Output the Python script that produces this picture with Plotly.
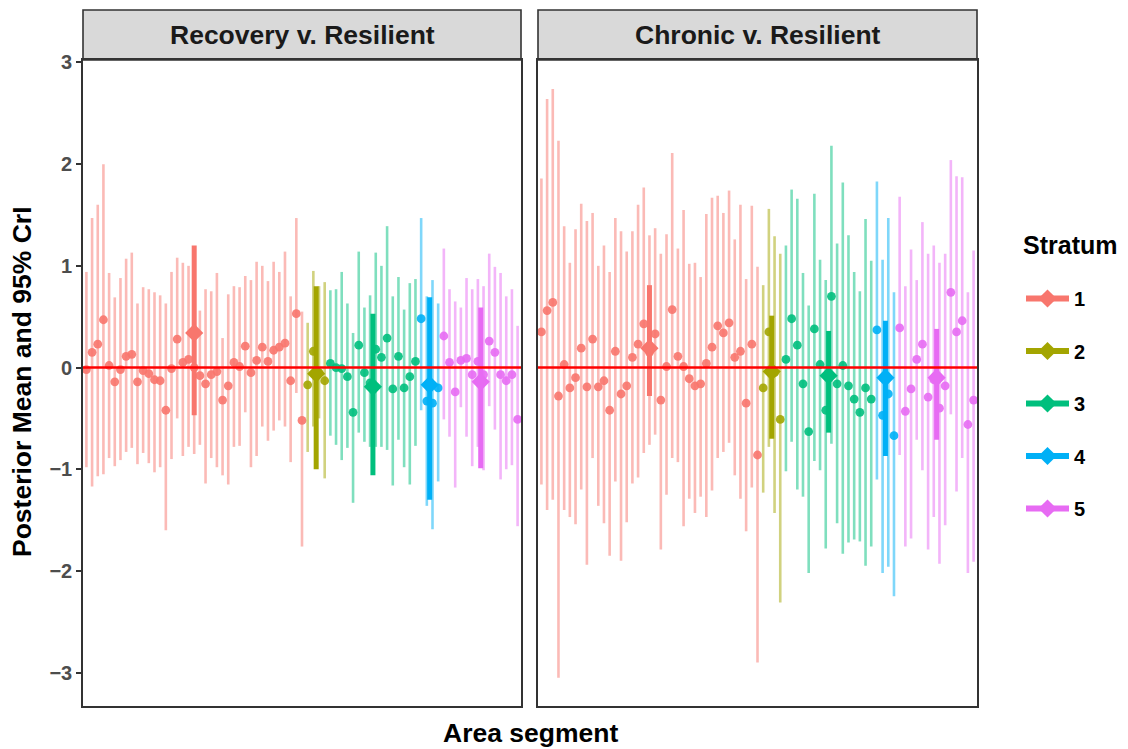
import plotly.graph_objects as go

# ---------------- data ----------------
segments = list(range(1, 78))
stratum = [1] * 39 + [2] * 4 + [3] * 16 + [4] * 4 + [5] * 14
strata = [1, 2, 3, 4, 5]
colors = ["#F8766D", "#A3A500", "#00BF7D", "#00B0F6", "#E76BF3"]
panel_titles = ["Recovery v. Resilient", "Chronic v. Resilient"]

rec_mean = [-0.02, 0.15, 0.23, 0.47, 0.02, -0.14, -0.02, 0.11, 0.13, -0.14,
            -0.03, -0.06, -0.12, -0.13, -0.42, -0.01, 0.28, 0.05, 0.08, 0.00,
            -0.08, -0.16, -0.07, -0.04, -0.32, -0.18, 0.05, 0.01, 0.21, -0.05,
            0.07, 0.20, 0.06, 0.17, 0.20, 0.24, -0.13, 0.53, -0.52,
            -0.17, 0.16, -0.05, -0.13,
            0.04, 0.00, -0.01, -0.09, -0.44, 0.22, -0.05, -0.15, 0.18, 0.10,
            0.29, -0.21, 0.11, -0.20, -0.09, 0.06,
            0.48, -0.33, -0.35, -0.20,
            0.31, 0.05, -0.24, 0.07, 0.09, -0.07, 0.06, -0.07, 0.26, 0.15,
            -0.07, -0.13, -0.07, -0.51]
rec_lo = [-0.98, -1.17, -1.07, -1.05, -0.89, -0.97, -0.91, -0.83, -0.79, -0.95,
          -0.84, -0.94, -1.03, -0.98, -1.60, -0.90, -0.50, -0.87, -0.78, -0.85,
          -0.76, -1.14, -0.89, -0.98, -1.06, -1.15, -0.78, -0.77, -0.44, -0.98,
          -0.87, -0.58, -0.72, -0.62, -0.52, -0.58, -0.93, -0.25, -1.76,
          -0.83, -0.58, -0.50, -1.09,
          -0.67, -0.76, -0.91, -0.79, -1.33, -0.64, -0.73, -0.78, -0.78, -0.78,
          -0.81, -1.16, -0.71, -0.98, -1.15, -0.77,
          -0.42, -1.36, -1.59, -1.12,
          -0.51, -0.68, -1.18, -0.39, -0.68, -0.97, -0.78, -1.01, -0.38, -0.61,
          -1.10, -1.00, -0.96, -1.56]
rec_hi = [0.94, 1.47, 1.60, 2.00, 0.93, 0.69, 0.88, 1.07, 1.13, 0.63,
          0.79, 0.77, 0.74, 0.71, 0.63, 0.94, 1.08, 1.03, 1.00, 0.95,
          0.56, 0.77, 0.75, 0.93, 0.29, 0.72, 0.80, 0.79, 0.90, 0.86,
          1.04, 1.00, 0.85, 1.04, 0.94, 1.14, 0.70, 1.47, 0.55,
          0.44, 0.95, 0.80, 0.84,
          0.76, 0.77, 0.94, 0.63, 0.34, 1.14, 0.59, 0.71, 1.13, 1.00,
          1.39, 0.70, 0.89, 0.57, 0.83, 0.87,
          1.47, 0.70, 0.86, 0.63,
          1.17, 0.77, 0.65, 0.59, 0.88, 0.77, 0.87, 0.80, 1.12, 0.99,
          0.93, 0.70, 0.77, 0.41]

chr_mean = [0.35, 0.56, 0.64, -0.28, 0.03, -0.20, -0.10, 0.19, -0.19, 0.28,
            -0.19, -0.13, -0.42, 0.16, -0.26, -0.18, 0.10, 0.23, 0.43, 0.15,
            0.33, -0.32, 0.01, 0.57, 0.11, 0.01, -0.11, -0.18, -0.16, 0.04,
            0.20, 0.41, 0.34, 0.44, 0.10, 0.16, -0.35, 0.23, -0.86,
            -0.20, 0.35, -0.05, -0.51,
            0.08, 0.48, 0.22, -0.16, -0.63, 0.38, 0.03, -0.42, 0.70, -0.16,
            0.02, -0.18, -0.31, -0.44, -0.20, -0.31,
            0.37, -0.47, -0.26, -0.67,
            0.39, -0.43, -0.21, 0.08, 0.23, -0.29, -0.12, -0.40, -0.18, 0.74,
            0.35, 0.46, -0.56, -0.32]
chr_lo = [-1.15, -1.40, -1.30, -3.05, -1.40, -1.47, -1.54, -1.20, -1.94, -0.89,
          -1.36, -1.53, -1.85, -1.12, -1.90, -1.52, -1.14, -1.08, -0.84, -0.76,
          -0.66, -1.79, -1.25, -0.89, -0.93, -1.56, -1.29, -1.43, -1.27, -1.47,
          -1.21, -0.89, -0.83, -0.74, -1.06, -1.29, -1.61, -1.18, -2.90,
          -1.23, -0.78, -1.43, -2.31,
          -1.02, -0.73, -1.20, -1.27, -2.02, -0.92, -1.01, -1.78, -0.75, -1.53,
          -1.83, -1.72, -1.69, -1.71, -1.95, -1.76,
          -1.10, -2.02, -1.96, -2.25,
          -0.86, -1.76, -1.68, -0.71, -1.01, -1.79, -1.47, -1.93, -1.55, -0.46,
          -1.22, -0.89, -2.02, -1.91]
chr_hi = [1.86, 2.64, 2.74, 2.23, 1.39, 1.03, 1.36, 1.61, 1.44, 1.52,
          1.00, 1.20, 0.94, 1.47, 1.34, 1.14, 1.34, 1.60, 1.77, 1.30,
          1.37, 1.12, 1.31, 2.11, 1.17, 1.55, 1.02, 1.03, 0.89, 1.51,
          1.67, 1.69, 1.52, 1.74, 1.26, 1.60, 0.87, 1.59, 0.99,
          0.81, 1.56, 1.29, 1.12,
          1.20, 1.75, 1.66, 0.93, 0.61, 1.71, 1.06, 0.86, 2.18, 1.22,
          1.82, 1.30, 0.94, 0.75, 1.46, 1.05,
          1.83, 1.06, 1.47, 0.74,
          1.68, 0.80, 1.16, 0.86, 1.43, 1.12, 1.20, 1.03, 1.12, 2.04,
          1.88, 1.87, 0.74, 1.15]

rec_s_mean = [0.34, -0.06, -0.19, -0.17, -0.14]
rec_s_lo = [-0.47, -1.00, -1.06, -1.30, -0.99]
rec_s_hi = [1.20, 0.80, 0.53, 0.69, 0.59]
chr_s_mean = [0.19, -0.04, -0.08, -0.10, -0.10]
chr_s_lo = [-0.28, -0.70, -0.64, -0.87, -0.71]
chr_s_hi = [0.81, 0.51, 0.36, 0.46, 0.38]

# ---------------- figure ----------------
FONT = "Liberation Sans, Arial, Helvetica, sans-serif"
OFF = 8                     # page body margin of the html page
W, H = 1128 - OFF, 749 - OFF


def rgba(hexc, a):
    h = hexc.lstrip("#")
    return "rgba(%d,%d,%d,%.2f)" % (int(h[0:2], 16), int(h[2:4], 16), int(h[4:6], 16), a)


def px(v):
    return (v - OFF) / W


def py(v):
    return 1 - (v - OFF) / H


panels = [
    (rec_mean, rec_lo, rec_hi, rec_s_mean, rec_s_lo, rec_s_hi, "x", "y"),
    (chr_mean, chr_lo, chr_hi, chr_s_mean, chr_s_lo, chr_s_hi, "x2", "y2"),
]

fig = go.Figure()
for p, (mn, lo, hi, smn, slo, shi, xa, ya) in enumerate(panels):
    # individual area segments
    for k, s in enumerate(strata):
        idx = [i for i, st in enumerate(stratum) if st == s]
        fig.add_trace(go.Scatter(
            x=[segments[i] for i in idx], y=[mn[i] for i in idx],
            mode="markers", xaxis=xa, yaxis=ya, showlegend=False,
            marker=dict(size=8.8, color=colors[k], opacity=0.9),
            error_y=dict(type="data", symmetric=False,
                         array=[hi[i] - mn[i] for i in idx],
                         arrayminus=[mn[i] - lo[i] for i in idx],
                         thickness=2.6, width=0, color=rgba(colors[k], 0.5)),
            hoverinfo="skip",
        ))
    # stratum summaries
    for k, s in enumerate(strata):
        xs_s = [segments[i] for i, st in enumerate(stratum) if st == s]
        xc = sum(xs_s) / len(xs_s)
        fig.add_trace(go.Scatter(
            x=[xc], y=[smn[k]], mode="lines+markers", xaxis=xa, yaxis=ya,
            name=str(s), legendgroup=str(s), showlegend=(p == 0),
            line=dict(color=colors[k], width=6),
            marker=dict(symbol="diamond", size=14, color=colors[k]),
            error_y=dict(type="data", symmetric=False,
                         array=[shi[k] - smn[k]], arrayminus=[smn[k] - slo[k]],
                         thickness=5, width=0, color=colors[k]),
            hoverinfo="skip",
        ))

x1dom = [px(83), px(521)]
x2dom = [px(538), px(977)]
ydom = [py(706), py(60)]
xr = [segments[0] - 0.6, segments[-1] + 0.6]
yr = [-3.328, 3.024]

axis_common = dict(showgrid=False, zeroline=False, showline=True, mirror=True,
                   linecolor="#333333", linewidth=1.6)
fig.update_layout(
    width=W, height=H,
    margin=dict(l=0, r=0, t=0, b=0, pad=0, autoexpand=False),
    paper_bgcolor="white", plot_bgcolor="white",
    font=dict(family=FONT, color="black"),
    xaxis=dict(domain=x1dom, range=xr, showticklabels=False, ticks="",
               automargin=False, **axis_common),
    xaxis2=dict(domain=x2dom, range=xr, showticklabels=False, ticks="", anchor="y2",
                automargin=False, **axis_common),
    yaxis=dict(domain=ydom, range=yr, tickvals=[-3, -2, -1, 0, 1, 2, 3], ticks="outside",
               ticklen=5, tickwidth=1.6, tickcolor="#333333",
               tickfont=dict(family=FONT, size=20, color="#4D4D4D", weight="bold"),
               anchor="x", automargin=False, **axis_common),
    yaxis2=dict(domain=ydom, range=yr, showticklabels=False, ticks="", anchor="x2",
                matches="y", automargin=False, **axis_common),
    legend=dict(x=px(1021), y=py(279), xanchor="left", yanchor="top",
                font=dict(family=FONT, size=20, weight="bold"),
                itemwidth=43, tracegroupgap=23.5, bgcolor="rgba(0,0,0,0)"),
)

shapes = []
annotations = []
for dom, title in zip([x1dom, x2dom], panel_titles):
    shapes.append(dict(type="rect", xref="paper", yref="paper", x0=dom[0], x1=dom[1],
                       y0=py(60), y1=py(10), fillcolor="#D9D9D9",
                       line=dict(color="#333333", width=1.6), layer="below"))
    annotations.append(dict(text=title, xref="paper", yref="paper", x=(dom[0] + dom[1]) / 2,
                            y=py(35), showarrow=False, xanchor="center", yanchor="middle",
                            font=dict(family=FONT, size=26.5, color="#1A1A1A", weight="bold")))
for xa, ya in [("x", "y"), ("x2", "y2")]:
    shapes.append(dict(type="line", xref=xa + " domain", yref=ya, x0=0, x1=1, y0=0, y1=0,
                       line=dict(color="#FF0000", width=2.4), layer="above"))

annotations.append(dict(text="Posterior Mean and 95% CrI", xref="paper", yref="paper",
                        x=px(22), y=py(382), showarrow=False, textangle=-90,
                        xanchor="center", yanchor="middle",
                        font=dict(family=FONT, size=26.5, color="black", weight="bold")))
annotations.append(dict(text="Area segment", xref="paper", yref="paper",
                        x=px(530), y=py(733), showarrow=False,
                        xanchor="center", yanchor="middle",
                        font=dict(family=FONT, size=26.5, color="black", weight="bold")))
annotations.append(dict(text="Stratum", xref="paper", yref="paper",
                        x=px(1021), y=py(245), showarrow=False,
                        xanchor="left", yanchor="middle",
                        font=dict(family=FONT, size=25, color="black", weight="bold")))
fig.update_layout(shapes=shapes, annotations=annotations)

fig.write_html("out.html")
